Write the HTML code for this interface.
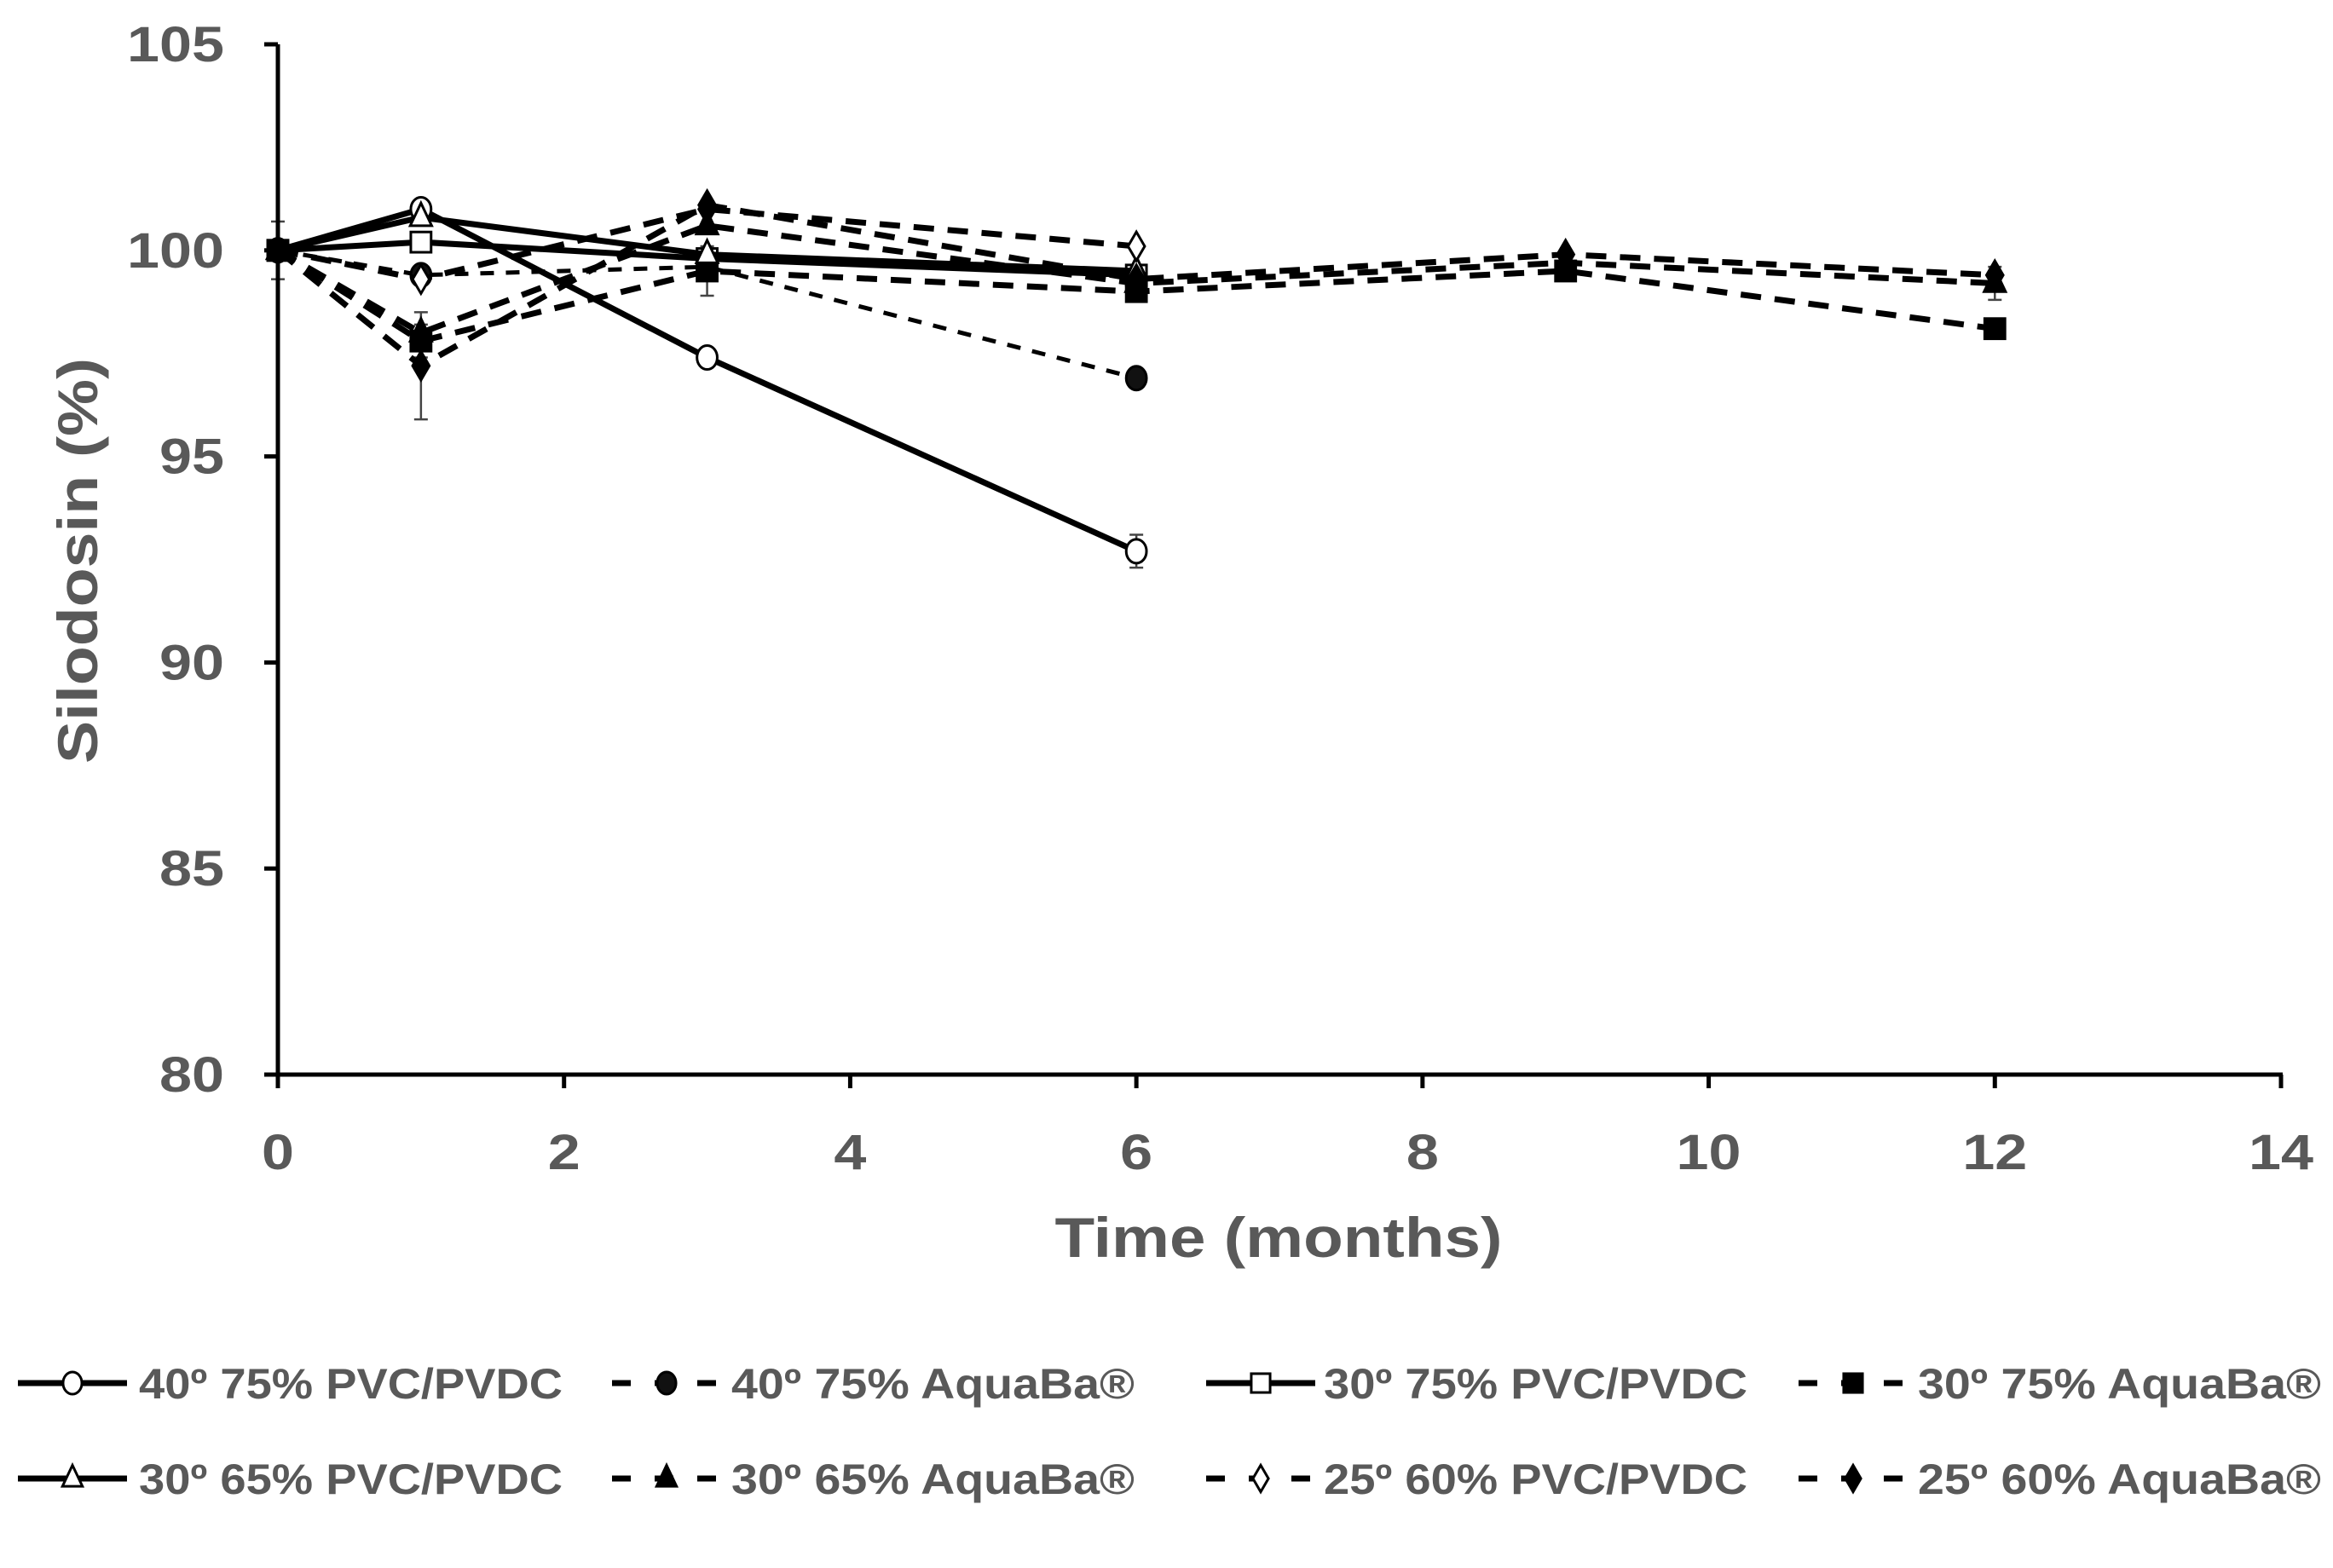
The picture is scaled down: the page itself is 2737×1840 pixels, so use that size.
<!DOCTYPE html>
<html><head><meta charset="utf-8"><style>
html,body{margin:0;padding:0;background:#fff;}
svg{display:block;font-family:"Liberation Sans",Arial,sans-serif;font-weight:bold;}
</style></head><body>
<svg id="chart" width="2737" height="1840" viewBox="0 0 2737 1840" xmlns="http://www.w3.org/2000/svg"></svg>
<script>
const xTicks = [0,2,4,6,8,10,12,14];
const yTicks = [80,85,90,95,100,105];
const s1 = [[0,100],[1,101.0],[3,97.4],[6,92.7]];
const s2 = [[0,100],[1,99.4],[3,99.6],[6,96.9]];
const s3 = [[0,100],[1,100.2],[3,99.8],[6,99.4]];
const s4 = [[0,100],[1,97.8],[3,99.5],[6,99.0],[9,99.5],[12,98.1]];
const s5 = [[0,100],[1,100.8],[3,99.9],[6,99.5]];
const s6 = [[0,100],[1,98.0],[3,100.6],[6,99.2],[9,99.7],[12,99.2]];
const s7 = [[0,100],[1,99.3],[3,101.0],[6,100.1]];
const s8 = [[0,100],[1,97.2],[3,101.1],[6,99.3],[9,99.9],[12,99.4]];
const errX = [0,1,1,3,6,12];
const errY = [100,97.2,97.8,99.5,92.7,99.2];
const errD = [0.7,1.3,0.4,0.6,0.4,0.4];
const names = ["40º 75% PVC/PVDC","40º 75% AquaBa®","30º 75% PVC/PVDC","30º 75% AquaBa®","30º 65% PVC/PVDC","30º 65% AquaBa®","25º 60% PVC/PVDC","25º 60% AquaBa®"];

const NS="http://www.w3.org/2000/svg", svg=document.getElementById('chart');
const X0=326,X1=2676,Y0=1261,Y1=52;
const sx=v=>X0+(v-0)/(14-0)*(X1-X0);
const sy=v=>Y0-(v-80)/(105-80)*(Y0-Y1);
function mk(t,a,p){const e=document.createElementNS(NS,t);for(const k in a)e.setAttribute(k,a[k]);(p||svg).appendChild(e);return e;}
const styles=[
 {dash:null,m:'circle',fill:'#fff'},{dash:'16 14',m:'circle',fill:'#111',w:5},
 {dash:null,m:'square',fill:'#fff'},{dash:'24 16',m:'square',fill:'#000'},
 {dash:null,m:'tri',fill:'#fff'},{dash:'24 16',m:'tri',fill:'#000'},
 {dash:'24 16',m:'diamond',fill:'#fff'},{dash:'24 16',m:'diamond',fill:'#000'}];
const series=[s1,s2,s3,s4,s5,s6,s7,s8];
function marker(g,type,cx,cy,fill,r){
 let e;
 if(type==='circle') e=mk('ellipse',{cx,cy,rx:r*0.85,ry:r},g);
 else if(type==='square') e=mk('rect',{x:cx-r*0.85,y:cy-r*0.85,width:r*1.7,height:r*1.7},g);
 else if(type==='tri') e=mk('polygon',{points:`${cx},${cy-r*1.2} ${cx+r*0.9},${cy+r*0.7} ${cx-r*0.9},${cy+r*0.7}`},g);
 else e=mk('polygon',{points:`${cx},${cy-r*1.2} ${cx+r*0.7},${cy} ${cx},${cy+r*1.2} ${cx-r*0.7},${cy}`},g);
 e.setAttribute('fill',fill);e.setAttribute('stroke','#000');e.setAttribute('stroke-width',3);
 return e;
}
const eg=mk('g',{});


errX.forEach((x,i)=>{const px=sx(x),a=sy(errY[i]-errD[i]),b=sy(errY[i]+errD[i]);
 mk('line',{x1:px,x2:px,y1:a,y2:b,stroke:'#444','stroke-width':2.5},eg);
 mk('line',{x1:px-8,x2:px+8,y1:a,y2:a,stroke:'#444','stroke-width':2.5},eg);
 mk('line',{x1:px-8,x2:px+8,y1:b,y2:b,stroke:'#444','stroke-width':2.5},eg);});
series.forEach((d,i)=>{
 const g=mk('g',{});
 
 
 const st=styles[i];
 const pl=mk('polyline',{points:d.map(p=>sx(p[0])+','+sy(p[1])).join(' '),fill:'none',stroke:'#000','stroke-width':st.w||7},g);
 if(st.dash)pl.setAttribute('stroke-dasharray',st.dash);
 d.forEach(p=>{const m=marker(g,st.m,sx(p[0]),sy(p[1]),st.fill,14);
  
  });
});
const ax=mk('g',{});


mk('line',{x1:X0,x2:X0,y1:Y1,y2:Y0+2,stroke:'#000','stroke-width':5},ax);
mk('line',{x1:X0-2,x2:X1+2,y1:Y0,y2:Y0,stroke:'#000','stroke-width':5},ax);
yTicks.forEach(v=>{mk('line',{x1:X0-16,x2:X0,y1:sy(v),y2:sy(v),stroke:'#000','stroke-width':5},ax);
 const s=String(v);
 const t=mk('text',{x:263,y:sy(v)+20,'text-anchor':'end','font-size':58,fill:'#595959',textLength:s.length*38,lengthAdjust:'spacingAndGlyphs'},ax);t.textContent=s;
 
 });
xTicks.forEach(v=>{mk('line',{x1:sx(v),x2:sx(v),y1:Y0,y2:Y0+16,stroke:'#000','stroke-width':5},ax);
 const s=String(v);
 const t=mk('text',{x:sx(v),y:1372,'text-anchor':'middle','font-size':58,fill:'#595959',textLength:s.length*38,lengthAdjust:'spacingAndGlyphs'},ax);t.textContent=s;
 
 });
const xt=mk('text',{x:1500,y:1475,'text-anchor':'middle','font-size':66,fill:'#595959',textLength:525,lengthAdjust:'spacingAndGlyphs'});xt.textContent='Time (months)';


const yt=mk('text',{x:0,y:0,'text-anchor':'middle','font-size':66,fill:'#595959',textLength:476,lengthAdjust:'spacingAndGlyphs',transform:'translate(114,658) rotate(-90)'});yt.textContent='Silodosin (%)';


const colL=[21,718,1415,2110],colT=[163,858,1553,2250],rowY=[1623,1735];
names.forEach((n,i)=>{
 const c=i%4,r=Math.floor(i/4),st=styles[i],y=rowY[r];
 const g=mk('g',{});
 
 
 const l=mk('line',{x1:colL[c],x2:colL[c]+128,y1:y,y2:y,stroke:'#000','stroke-width':7},g);
 if(st.dash)l.setAttribute('stroke-dasharray','22 28');
 marker(g,st.m,colL[c]+64,y,st.fill,13);
 const w=n.indexOf('PVC')>=0?497:473;
 const t=mk('text',{x:colT[c],y:y+18,'font-size':50,fill:'#595959',textLength:w,lengthAdjust:'spacingAndGlyphs'},g);t.textContent=n;
});
</script>
</body></html>
